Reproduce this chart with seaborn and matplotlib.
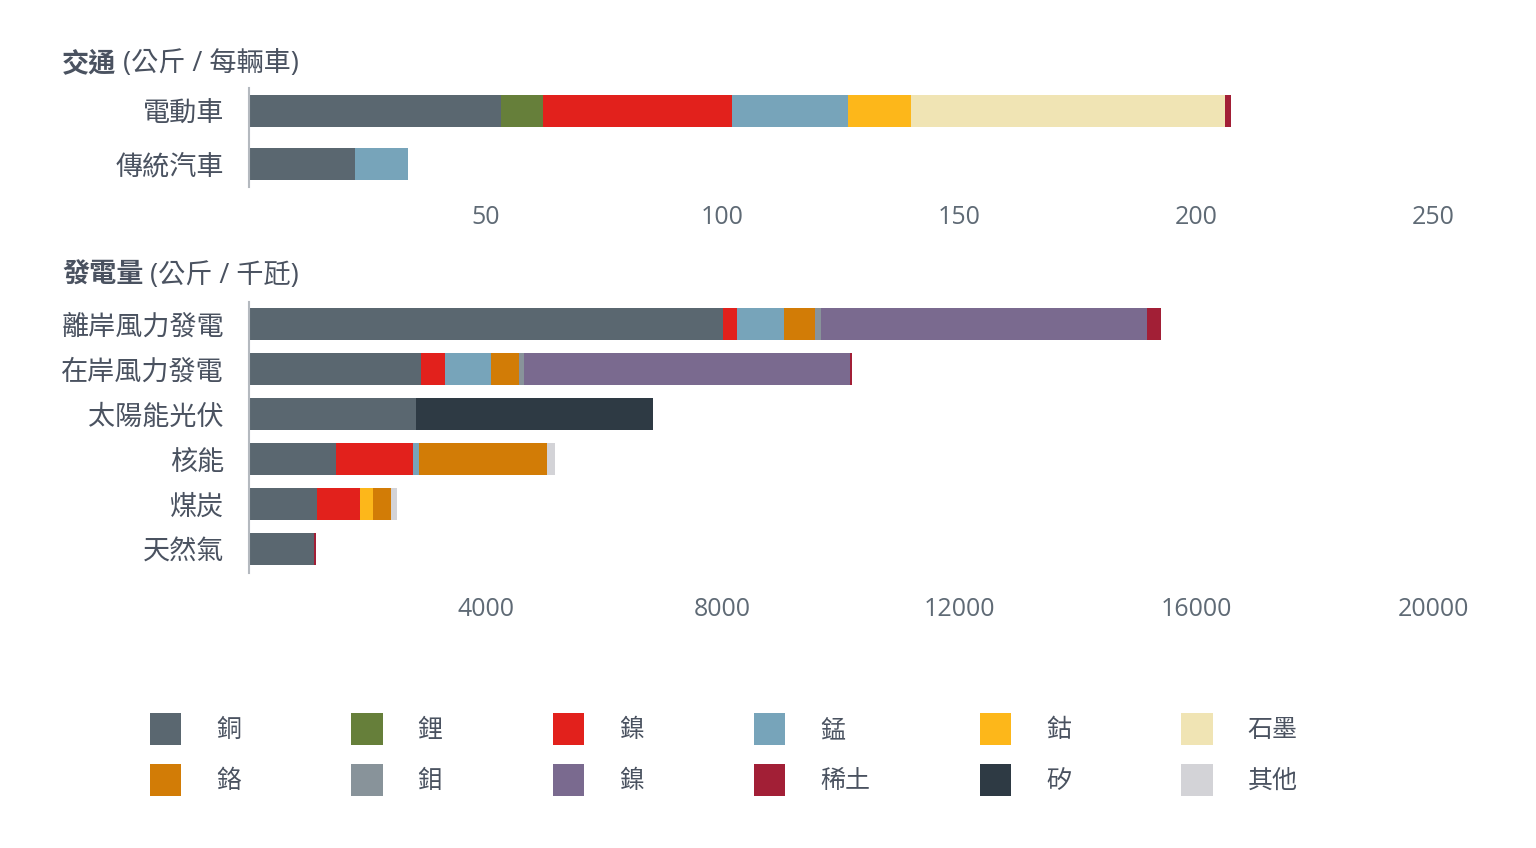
import numpy as np
import pandas as pd
import matplotlib
matplotlib.use("Agg")
import matplotlib.pyplot as plt
from matplotlib.patches import Patch
import seaborn as sns

sns.set_theme(style="white")
plt.rcParams["font.family"] = ["Open Sans", "Noto Sans CJK TC", "DejaVu Sans"]

# minerals in stacking order (legend reads row by row in the same order)
minerals = ["銅", "鋰", "鎳", "錳", "鈷", "石墨", "鉻", "鉬", "鋅", "稀土", "矽", "其他"]
legend_labels = ["銅", "鋰", "鎳", "錳", "鈷", "石墨", "鉻", "鉬", "鎳", "稀土", "矽", "其他"]
colors = ["#5a6770", "#667f3a", "#e2211c", "#77a4ba", "#fdb71a", "#f0e4b4",
          "#d27c06", "#88939a", "#7a6a8f", "#a21f36", "#2e3a44", "#d3d3d7"]

# transport (kg per vehicle)
cars = ["電動車", "傳統汽車"]
ev = [53.2, 8.9, 39.9, 24.5, 13.3, 66.3, 0, 0, 0, 1.3, 0, 0]
conventional = [22.3, 0, 0, 11.2, 0, 0, 0, 0, 0, 0, 0, 0]

# power generation (kg per MW)
plants = ["離岸風力發電", "在岸風力發電", "太陽能光伏", "核能", "煤炭", "天然氣"]
offshore = [8000, 0, 240, 790, 0, 0, 525, 110, 5500, 239, 0, 0]
onshore = [2900, 0, 404, 780, 0, 0, 470, 99, 5500, 30, 0, 0]
solar = [2822, 0, 0, 0, 0, 0, 0, 0, 0, 0, 4000, 0]
nuclear = [1473, 0, 1297, 110, 0, 0, 2160, 0, 0, 0, 0, 130]
coal = [1150, 0, 721, 0, 220, 0, 308, 0, 0, 0, 0, 100]
gas = [1100, 0, 0, 0, 0, 0, 0, 0, 0, 35, 0, 0]

top_ticks = [50, 100, 150, 200, 250]
bottom_ticks = [4000, 8000, 12000, 16000, 20000]

text_color = "#4a5260"
tick_color = "#5f6a75"
W, H = 1536, 848


def stacked(ax, cats, rows, width):
    df = pd.DataFrame(rows, index=cats, columns=minerals)
    cum = df.cumsum(axis=1)
    # draw running totals from the outermost segment inwards
    for i in range(len(minerals) - 1, -1, -1):
        m = minerals[i]
        part = pd.DataFrame({"cat": cats, "val": cum[m].values, "seg": df[m].values})
        part = part[part["seg"] > 0]
        if part.empty:
            continue
        sns.barplot(data=part, x="val", y="cat", order=cats, orient="h",
                    color=colors[i], width=width, saturation=1, ax=ax,
                    linewidth=0, errorbar=None)


def style(ax, ticks, xmax, pad):
    ax.set_xlim(0, xmax)
    ax.set_xticks(ticks)
    ax.set_xticklabels([str(t) for t in ticks])
    ax.set_xlabel("")
    ax.set_ylabel("")
    for s in ["top", "right", "bottom"]:
        ax.spines[s].set_visible(False)
    ax.spines["left"].set_color("#b4b9bf")
    ax.spines["left"].set_linewidth(1.5)
    ax.tick_params(axis="x", length=0, pad=pad, labelsize=18, labelcolor=tick_color)
    ax.tick_params(axis="y", length=0, pad=18, labelsize=19.5, labelcolor=text_color)


fig = plt.figure(figsize=(W / 100, H / 100), dpi=100)

x0 = 249 / W
xw = (1433 - 249) / W

# top panel
ax1 = fig.add_axes([x0, 1 - 187 / H, xw, (187 - 88) / H])
stacked(ax1, cars, [ev, conventional], 0.6)
style(ax1, top_ticks, 250, 13)
ax1.set_ylim(1.43, -0.43)

# bottom panel
ax2 = fig.add_axes([x0, 1 - 573 / H, xw, (573 - 302) / H])
stacked(ax2, plants, [offshore, onshore, solar, nuclear, coal, gas], 0.71)
style(ax2, bottom_ticks, 20000, 17)
ax2.set_ylim(5.53, -0.49)

# titles: bold part followed by regular part
renderer = fig.canvas.get_renderer()
for bold, rest, ypix in [("交通", " (公斤 / 每輛車)", 64), ("發電量", " (公斤 / 千瓩)", 276)]:
    t = fig.text(62 / W, 1 - ypix / H, bold, fontsize=19.5, fontweight="bold",
                 color=text_color, va="center", ha="left")
    bb = t.get_window_extent(renderer)
    fig.text(bb.x1 / W, 1 - ypix / H, rest, fontsize=19.5, color=text_color,
             va="center", ha="left")

# legend, row-major order turned into matplotlib's column-major fill
order = []
for c in range(6):
    order += [c, c + 6]
handles = [Patch(facecolor=colors[i], edgecolor="none") for i in order]
labels = [legend_labels[i] for i in order]
fig.legend(handles, labels, ncol=6, loc="upper left",
           bbox_to_anchor=(150 / W, 1 - 713 / H), frameon=False,
           fontsize=18, handlelength=1.25, handleheight=1.6, handletextpad=1.4,
           columnspacing=4.4, labelspacing=0.75, borderpad=0, borderaxespad=0,
           labelcolor=text_color)

fig.savefig("out.png", dpi=100)
